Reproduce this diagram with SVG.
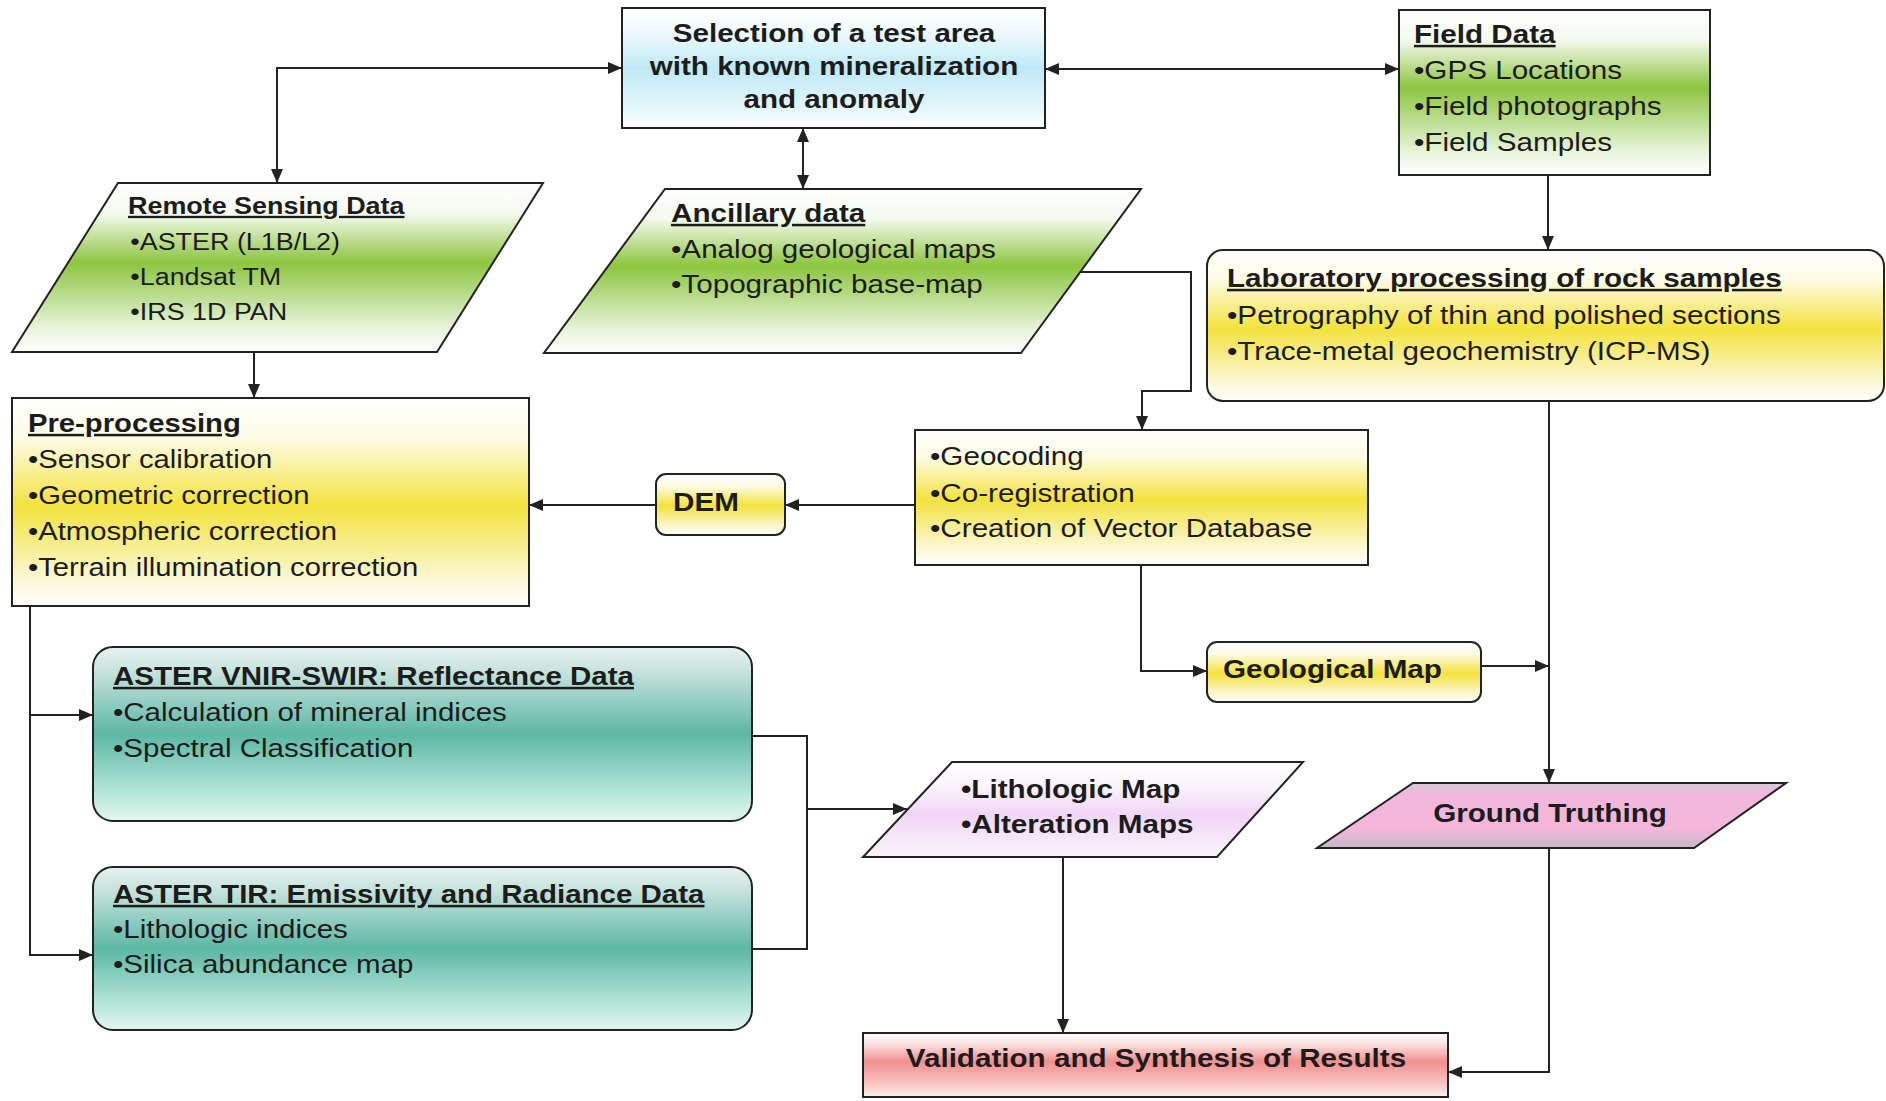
<svg xmlns="http://www.w3.org/2000/svg" width="1886" height="1101" viewBox="0 0 1886 1101">
<style>
  .box { stroke: #222; stroke-width: 2; }
  .t { font-family: "Liberation Sans", Arial, sans-serif; font-size: 25px; fill: #1c1c1c; }
  .s { font-size: 23px; }
  .b { font-weight: bold; }
  .u { font-weight: bold; text-decoration: underline; }
  .c { text-anchor: middle; }
  .ln { fill: none; stroke: #222; stroke-width: 2; }
  .a { marker-end: url(#ah); }
  .aa { marker-start: url(#ah); marker-end: url(#ah); }
</style>
<defs>
  <marker id="ah" viewBox="0 0 14 12" refX="14" refY="6" markerWidth="14" markerHeight="12" markerUnits="userSpaceOnUse" orient="auto-start-reverse">
    <path d="M0,0 L14,6 L0,12 z" fill="#222"/>
  </marker>
  <linearGradient id="gBlue" x1="0" y1="0" x2="0" y2="1">
    <stop offset="0" stop-color="#ffffff"/>
    <stop offset="0.18" stop-color="#f2fbfe"/>
    <stop offset="0.5" stop-color="#bfe9f6"/>
    <stop offset="0.85" stop-color="#e6f7fc"/>
    <stop offset="1" stop-color="#ffffff"/>
  </linearGradient>
  <linearGradient id="gGreen" x1="0" y1="0" x2="0" y2="1">
    <stop offset="0" stop-color="#ffffff"/>
    <stop offset="0.18" stop-color="#f5faef"/>
    <stop offset="0.47" stop-color="#8dc540"/>
    <stop offset="0.85" stop-color="#e6f3d8"/>
    <stop offset="1" stop-color="#ffffff"/>
  </linearGradient>
  <linearGradient id="gYellow" x1="0" y1="0" x2="0" y2="1">
    <stop offset="0" stop-color="#ffffff"/>
    <stop offset="0.2" stop-color="#fdfbe4"/>
    <stop offset="0.52" stop-color="#f4e23e"/>
    <stop offset="0.85" stop-color="#fbf6cc"/>
    <stop offset="1" stop-color="#ffffff"/>
  </linearGradient>
  <linearGradient id="gTeal" x1="0" y1="0" x2="0" y2="1">
    <stop offset="0" stop-color="#e8f2f0"/>
    <stop offset="0.15" stop-color="#c4e2db"/>
    <stop offset="0.5" stop-color="#5db7a5"/>
    <stop offset="0.85" stop-color="#b8e8da"/>
    <stop offset="1" stop-color="#e4f6f0"/>
  </linearGradient>
  <linearGradient id="gPink" x1="0" y1="0" x2="0" y2="1">
    <stop offset="0" stop-color="#d6c8d8"/>
    <stop offset="0.2" stop-color="#f3b6dc"/>
    <stop offset="0.7" stop-color="#f4b6da"/>
    <stop offset="1" stop-color="#c6b8c6"/>
  </linearGradient>
  <linearGradient id="gLav" x1="0" y1="0" x2="0" y2="1">
    <stop offset="0" stop-color="#ffffff"/>
    <stop offset="0.25" stop-color="#fbf4fc"/>
    <stop offset="0.55" stop-color="#f1d6f6"/>
    <stop offset="1" stop-color="#fbf3fc"/>
  </linearGradient>
  <linearGradient id="gRed" x1="0" y1="0" x2="0" y2="1">
    <stop offset="0" stop-color="#ffffff"/>
    <stop offset="0.15" stop-color="#fde6e6"/>
    <stop offset="0.45" stop-color="#f18f8f"/>
    <stop offset="0.8" stop-color="#f8c4c4"/>
    <stop offset="1" stop-color="#fef0f0"/>
  </linearGradient>
</defs>

<g id="connectors">
  <path class="ln aa" d="M277,183 L277,68 L622,68"/>
  <path class="ln aa" d="M1045,69 L1399,69"/>
  <path class="ln aa" d="M803,128 L803,189"/>
  <path class="ln a" d="M1548,175 L1548,250"/>
  <path class="ln a" d="M254,352 L254,398"/>
  <path class="ln a" d="M1080,272 L1191,272 L1191,391 L1142,391 L1142,430"/>
  <path class="ln a" d="M915,505 L785,505"/>
  <path class="ln a" d="M656,505 L529,505"/>
  <path class="ln a" d="M1141,565 L1141,671 L1207,671"/>
  <path class="ln a" d="M1549,401 L1549,783"/>
  <path class="ln a" d="M1481,666 L1549,666"/>
  <path class="ln a" d="M30,606 L30,955 L93,955"/>
  <path class="ln a" d="M30,715 L93,715"/>
  <path class="ln" d="M752,736 L807,736 L807,949 L752,949"/>
  <path class="ln a" d="M807,809 L907,809"/>
  <path class="ln a" d="M1063,857 L1063,1033"/>
  <path class="ln a" d="M1549,848 L1549,1072 L1448,1072"/>
</g>

<g id="selection">
  <rect class="box" x="622" y="8" width="423" height="120" fill="url(#gBlue)"/>
  <g transform="translate(834 0) scale(1.185 1)">
    <text class="t b c" x="0" y="42">Selection of a test area</text>
    <text class="t b c" x="0" y="75">with known mineralization</text>
    <text class="t b c" x="0" y="108">and anomaly</text>
  </g>
</g>

<g id="field-data">
  <rect class="box" x="1399" y="10" width="311" height="165" fill="url(#gGreen)"/>
  <g transform="translate(1414 0) scale(1.185 1)">
    <text class="t u" x="0" y="43">Field Data</text>
    <text class="t" x="0" y="79">•GPS Locations</text>
    <text class="t" x="0" y="115">•Field photographs</text>
    <text class="t" x="0" y="151">•Field Samples</text>
  </g>
</g>

<g id="remote-sensing">
  <polygon class="box" points="118,183 543,183 437,352 12,352" fill="url(#gGreen)"/>
  <g transform="translate(128 0) scale(1.17 1)">
    <text class="t s u" x="0" y="214">Remote Sensing Data</text>
    <text class="t s" x="2" y="250">•ASTER (L1B/L2)</text>
    <text class="t s" x="2" y="285">•Landsat TM</text>
    <text class="t s" x="2" y="320">•IRS 1D PAN</text>
  </g>
</g>

<g id="ancillary">
  <polygon class="box" points="665,189 1141,189 1021,353 544,353" fill="url(#gGreen)"/>
  <g transform="translate(671 0) scale(1.185 1)">
    <text class="t u" x="0" y="222">Ancillary data</text>
    <text class="t" x="0" y="258">•Analog geological maps</text>
    <text class="t" x="0" y="293">•Topographic base-map</text>
  </g>
</g>

<g id="laboratory">
  <rect class="box" x="1207" y="250" width="677" height="151" rx="16" fill="url(#gYellow)"/>
  <g transform="translate(1227 0) scale(1.185 1)">
    <text class="t u" x="0" y="287">Laboratory processing of rock samples</text>
    <text class="t" x="0" y="324">•Petrography of thin and polished sections</text>
    <text class="t" x="0" y="360">•Trace-metal geochemistry (ICP-MS)</text>
  </g>
</g>

<g id="pre-processing">
  <rect class="box" x="12" y="398" width="517" height="208" fill="url(#gYellow)"/>
  <g transform="translate(28 0) scale(1.17 1)">
    <text class="t u" x="0" y="432">Pre-processing</text>
    <text class="t" x="0" y="468">•Sensor calibration</text>
    <text class="t" x="0" y="504">•Geometric correction</text>
    <text class="t" x="0" y="540">•Atmospheric correction</text>
    <text class="t" x="0" y="576">•Terrain illumination correction</text>
  </g>
</g>

<g id="dem">
  <rect class="box" x="656" y="474" width="129" height="61" rx="10" fill="url(#gYellow)"/>
  <g transform="translate(673 0) scale(1.185 1)">
    <text class="t b" x="0" y="511">DEM</text>
  </g>
</g>

<g id="geocoding">
  <rect class="box" x="915" y="430" width="453" height="135" fill="url(#gYellow)"/>
  <g transform="translate(930 0) scale(1.185 1)">
    <text class="t" x="0" y="465">•Geocoding</text>
    <text class="t" x="0" y="502">•Co-registration</text>
    <text class="t" x="0" y="537">•Creation of Vector Database</text>
  </g>
</g>

<g id="geological-map">
  <rect class="box" x="1207" y="642" width="274" height="60" rx="10" fill="url(#gYellow)"/>
  <g transform="translate(1223 0) scale(1.185 1)">
    <text class="t b" x="0" y="678">Geological Map</text>
  </g>
</g>

<g id="ground-truthing">
  <polygon class="box" points="1413,783 1786,783 1694,848 1317,848" fill="url(#gPink)"/>
  <g transform="translate(1550 0) scale(1.185 1)">
    <text class="t b c" x="0" y="822">Ground Truthing</text>
  </g>
</g>

<g id="aster-vnir-swir">
  <rect class="box" x="93" y="647" width="659" height="174" rx="20" fill="url(#gTeal)"/>
  <g transform="translate(113 0) scale(1.18 1)">
    <text class="t u" x="0" y="685">ASTER VNIR-SWIR: Reflectance Data</text>
    <text class="t" x="0" y="721">•Calculation of mineral indices</text>
    <text class="t" x="0" y="757">•Spectral Classification</text>
  </g>
</g>

<g id="aster-tir">
  <rect class="box" x="93" y="867" width="659" height="163" rx="20" fill="url(#gTeal)"/>
  <g transform="translate(113 0) scale(1.18 1)">
    <text class="t u" x="0" y="903">ASTER TIR: Emissivity and Radiance Data</text>
    <text class="t" x="0" y="938">•Lithologic indices</text>
    <text class="t" x="0" y="973">•Silica abundance map</text>
  </g>
</g>

<g id="lithologic">
  <polygon class="box" points="952,762 1303,762 1217,857 863,857" fill="url(#gLav)"/>
  <g transform="translate(961 0) scale(1.185 1)">
    <text class="t b" x="0" y="798">•Lithologic Map</text>
    <text class="t b" x="0" y="833">•Alteration Maps</text>
  </g>
</g>

<g id="validation">
  <rect class="box" x="863" y="1033" width="585" height="64" fill="url(#gRed)"/>
  <g transform="translate(1156 0) scale(1.185 1)">
    <text class="t b c" x="0" y="1067">Validation and Synthesis of Results</text>
  </g>
</g>
</svg>
